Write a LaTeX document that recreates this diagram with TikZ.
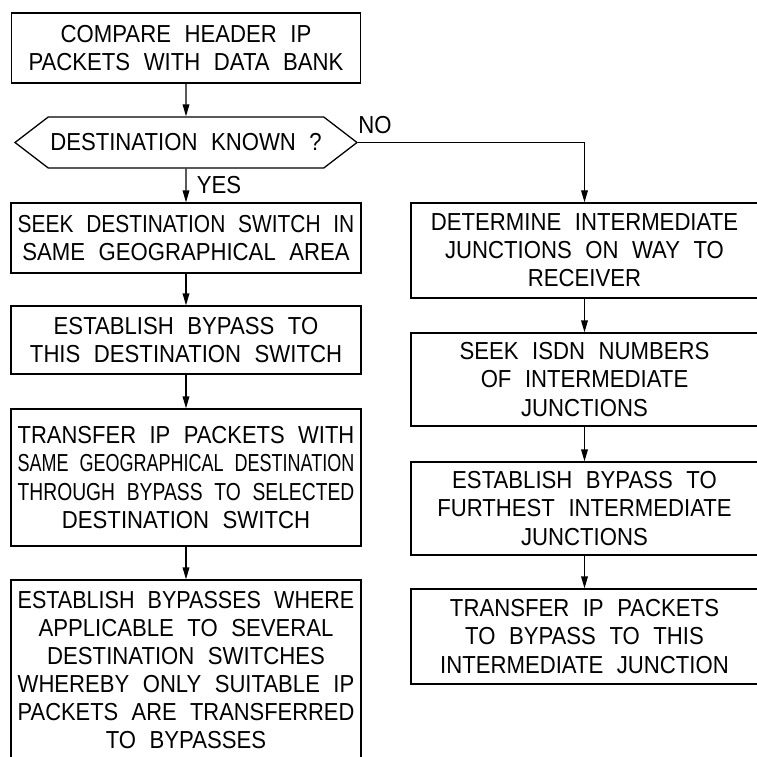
\documentclass[tikz,border=0pt]{standalone}
\usepackage{graphicx}
\usepackage{fontspec}
\setmainfont{Liberation Sans}[FakeStretch=0.9,WordSpace=2.2]
\usetikzlibrary{arrows.meta,shapes.symbols}

% squeeze a line sideways when it is wider than the box allows
\newlength\fitmax
\setlength\fitmax{101mm}
\newsavebox\fitbox
\newcommand\fitline[1]{\sbox\fitbox{#1}%
  \ifdim\wd\fitbox>\fitmax
    \pgfmathsetmacro\fitratio{\the\fitmax/\the\wd\fitbox}%
    \scalebox{\fitratio}[1]{\usebox\fitbox}%
  \else\usebox\fitbox\fi}

\tikzset{
  stepbox/.style={draw,rectangle,line width=1.1pt,align=center,inner sep=0pt,
    font=\fontsize{21}{24}\selectfont,execute at begin node={\setlength\fitmax{#1}}},
  stepbox/.default=101mm,
  flow/.style={line width=1.1pt,-{Triangle[length=3.6mm,width=2mm]}},
  lbl/.style={inner sep=0pt,font=\fontsize{21}{24}\selectfont}
}

\begin{document}
\begin{tikzpicture}[x=0.3mm,y=-0.3mm]
        % frame
        \useasboundingbox (0,0) rectangle (757,756);
        \clip (0,0) rectangle (757,756);
        % left column
        \node[stepbox,minimum width=104.7mm,minimum height=21mm] (compare) at (186,48)
          {\fitline{COMPARE HEADER IP}\\\fitline{PACKETS WITH DATA BANK}};
        \node[draw,line width=1.1pt,signal,signal to=west and east,signal pointer angle=75,
          minimum width=102.6mm,minimum height=15.3mm,inner sep=0pt,
          font=\fontsize{21}{24}\selectfont] (known) at (186,142.5)
          {DESTINATION KNOWN ?};
        \node[stepbox,minimum width=105mm,minimum height=21mm] (seekdest) at (186,238)
          {\fitline{SEEK DESTINATION SWITCH IN}\\\fitline{SAME GEOGRAPHICAL AREA}};
        \node[stepbox,minimum width=105mm,minimum height=20.4mm] (bypass) at (186,340)
          {\fitline{ESTABLISH BYPASS TO}\\\fitline{THIS DESTINATION SWITCH}};
        \node[stepbox,minimum width=105mm,minimum height=41.1mm] (transfer) at (186,477.5)
          {\fitline{TRANSFER IP PACKETS WITH}\\\fitline{SAME GEOGRAPHICAL DESTINATION}\\
           \fitline{THROUGH BYPASS TO SELECTED}\\\fitline{DESTINATION SWITCH}};
        \node[stepbox,minimum width=105mm,minimum height=54mm] (several) at (186,670)
          {\fitline{ESTABLISH BYPASSES WHERE}\\\fitline{APPLICABLE TO SEVERAL}\\
           \fitline{DESTINATION SWITCHES}\\\fitline{WHEREBY ONLY SUITABLE IP}\\
           \fitline{PACKETS ARE TRANSFERRED}\\\fitline{TO BYPASSES}};
        % right column
        \node[stepbox=97.5mm,minimum width=104.1mm,minimum height=28.5mm] (detjunc) at (584.5,250.5)
          {\fitline{DETERMINE INTERMEDIATE}\\\fitline{JUNCTIONS ON WAY TO}\\\fitline{RECEIVER}};
        \node[stepbox=97.5mm,minimum width=104.1mm,minimum height=27.9mm] (seekisdn) at (584.5,379.5)
          {\fitline{SEEK ISDN NUMBERS}\\\fitline{OF INTERMEDIATE}\\\fitline{JUNCTIONS}};
        \node[stepbox=97.5mm,minimum width=104.1mm,minimum height=27.9mm] (furthest) at (584.5,508.5)
          {\fitline{ESTABLISH BYPASS TO}\\\fitline{FURTHEST INTERMEDIATE}\\\fitline{JUNCTIONS}};
        \node[stepbox=97.5mm,minimum width=104.1mm,minimum height=28.5mm] (tojunc) at (584.5,636.5)
          {\fitline{TRANSFER IP PACKETS}\\\fitline{TO BYPASS TO THIS}\\\fitline{INTERMEDIATE JUNCTION}};
        % labels
        \node[lbl] (yeslbl) at (219,185) {YES};
        \node[lbl] (nolbl) at (375,125) {NO};
        % connectors
        \draw[flow] (compare) -- (known);
        \draw[flow] (known) -- (seekdest);
        \draw[flow] (seekdest) -- (bypass);
        \draw[flow] (bypass) -- (transfer);
        \draw[flow] (transfer) -- (several);
        \draw[flow] (known.east) -| (detjunc.north);
        \draw[flow] (detjunc) -- (seekisdn);
        \draw[flow] (seekisdn) -- (furthest);
        \draw[flow] (furthest) -- (tojunc);
    \end{tikzpicture}
\end{document}
